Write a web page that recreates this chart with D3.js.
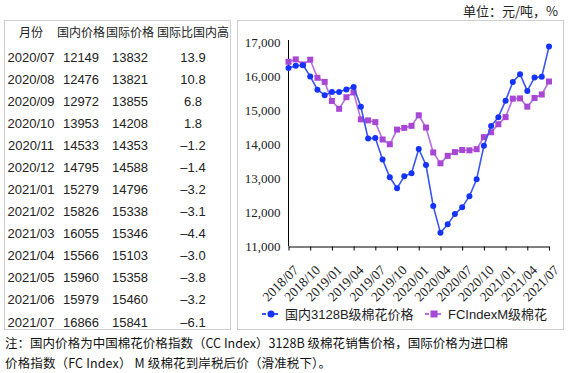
<!DOCTYPE html>
<html>
<head>
<meta charset="utf-8">
<script src="https://cdn.jsdelivr.net/npm/d3@7"></script>
<style>
  body { margin: 0; background: #fff; }
  svg { display: block; }
</style>
</head>
<body>
<div id="chart"></div>
<script>
// monthly series, 2018/07 - 2021/07
const months = ["2018/07","2018/08","2018/09","2018/10","2018/11","2018/12",
  "2019/01","2019/02","2019/03","2019/04","2019/05","2019/06","2019/07","2019/08","2019/09","2019/10","2019/11","2019/12",
  "2020/01","2020/02","2020/03","2020/04","2020/05","2020/06","2020/07","2020/08","2020/09","2020/10","2020/11","2020/12",
  "2021/01","2021/02","2021/03","2021/04","2021/05","2021/06","2021/07"];
const domestic = [16240,16300,16320,15990,15600,15440,15530,15530,15610,15680,15100,14170,14180,13550,13030,
  12710,13060,13150,13860,13390,12190,11400,11650,11950,12149,12476,12972,13953,14533,14795,
  15279,15826,16055,15566,15960,15979,16866];
const intl = [16420,16490,16340,16480,15950,15830,15270,15040,15380,15520,14730,14700,14650,14140,14000,
  14430,14480,14540,14850,14490,13760,13440,13660,13770,13832,13821,13855,14208,14353,14588,
  14796,15338,15346,15103,15358,15460,15841];
const yTicks = [11000,12000,13000,14000,15000,16000,17000];
const seriesNames = ["国内3128B级棉花价格", "FCIndexM级棉花"];

// table on the left
const tableHeader = ["月份","国内价格","国际价格","国际比国内高"];
const tableMonths = ["2020/07","2020/08","2020/09","2020/10","2020/11","2020/12","2021/01","2021/02","2021/03","2021/04","2021/05","2021/06","2021/07"];
const tableDomestic = ["12149","12476","12972","13953","14533","14795","15279","15826","16055","15566","15960","15979","16866"];
const tableIntl = ["13832","13821","13855","14208","14353","14588","14796","15338","15346","15103","15358","15460","15841"];
const tableDiff = ["13.9","10.8","6.8","1.8","\u20131.2","\u20131.4","\u20133.2","\u20133.1","\u20134.4","\u20133.0","\u20133.8","\u20133.2","\u20136.1"];

const unitText = "单位：元/吨，%";
const noteLines = ["注：国内价格为中国棉花价格指数（CC Index）3128B 级棉花销售价格，国际价格为进口棉",
  "价格指数（FC Index） M 级棉花到岸税后价（滑准税下）。"];

const width = 574, height = 373;
const blue = "#1433ff", blueLine = "#3a55f0";
const purple = "#a847d6", purpleLine = "#b56ee0";
const serif = "'Liberation Serif', 'DejaVu Serif', serif";
const sans = "'Liberation Sans', 'Noto Sans CJK SC', sans-serif";
const cjk = "'Noto Sans CJK SC', sans-serif";

const svg = d3.select("#chart").append("svg")
  .attr("width", width)
  .attr("height", height);

// boxes
svg.append("rect").attr("x", 4.5).attr("y", 20.5).attr("width", 226).attr("height", 309)
  .attr("fill", "none").attr("stroke", "#cfcfcf");
svg.append("rect").attr("x", 237.5).attr("y", 20.5).attr("width", 326).attr("height", 309)
  .attr("fill", "none").attr("stroke", "#cfcfcf");

// ---- table ----
const colX = d3.scaleOrdinal().domain([0,1,2,3]).range([31, 81, 130, 193]);
const rowY = d3.scaleLinear().domain([0, 12]).range([57, 322]);

svg.append("g").selectAll("text")
  .data(tableHeader)
  .join("text")
  .attr("x", (d, i) => colX(i))
  .attr("y", 33)
  .attr("dy", "0.35em")
  .attr("text-anchor", "middle")
  .attr("font-family", cjk)
  .attr("font-size", 12)
  .attr("fill", "#222")
  .text(d => d);

const rows = tableMonths.map((m, i) => [m, tableDomestic[i], tableIntl[i], tableDiff[i]]);
svg.append("g").selectAll("g")
  .data(rows)
  .join("g")
  .attr("transform", (d, i) => `translate(0,${rowY(i)})`)
  .selectAll("text")
  .data(d => d)
  .join("text")
  .attr("x", (d, i) => colX(i))
  .attr("dy", "0.35em")
  .attr("text-anchor", "middle")
  .attr("font-family", sans)
  .attr("font-size", 13)
  .attr("fill", "#222")
  .text(d => d);

// ---- line chart ----
const x = d3.scalePoint().domain(months).range([288.5, 549]);
const y = d3.scaleLinear().domain([11000, 17000]).range([246.5, 42]);

// y axis
const yAxis = svg.append("g")
  .attr("transform", "translate(288.5,0)")
  .call(d3.axisLeft(y).tickValues(yTicks).tickFormat(d3.format(",")).tickSize(0).tickPadding(8));
yAxis.select(".domain").attr("stroke", "#000").attr("d", `M0,${y(17000) - 2}V${y(11000)}`);
yAxis.selectAll(".tick text").attr("font-family", serif).attr("font-size", 13).attr("fill", "#222");

// x axis
const xAxis = svg.append("g")
  .attr("transform", `translate(0,${y(11000)})`)
  .call(d3.axisBottom(x).tickValues(months.filter((d, i) => i % 3 === 0)).tickSize(4).tickSizeOuter(0));
xAxis.select(".domain").attr("stroke", "#000");
xAxis.selectAll(".tick line").attr("stroke", "#000");
xAxis.selectAll(".tick text")
  .attr("font-family", serif)
  .attr("font-size", 13.5)
  .attr("fill", "#222")
  .attr("text-anchor", "end")
  .attr("transform", "translate(7,21) rotate(-45)")
  .attr("dy", "0.35em")
  .attr("y", 0);

const line = d3.line().x((d, i) => x(months[i])).y(d => y(d));

svg.append("path").datum(intl)
  .attr("fill", "none").attr("stroke", purpleLine).attr("stroke-width", 1.6).attr("d", line);
svg.append("g").selectAll("rect")
  .data(intl)
  .join("rect")
  .attr("x", (d, i) => x(months[i]) - 3)
  .attr("y", d => y(d) - 3)
  .attr("width", 6).attr("height", 6)
  .attr("fill", purple);

svg.append("path").datum(domestic)
  .attr("fill", "none").attr("stroke", blueLine).attr("stroke-width", 1.6).attr("d", line);
svg.append("g").selectAll("circle")
  .data(domestic)
  .join("circle")
  .attr("cx", (d, i) => x(months[i]))
  .attr("cy", d => y(d))
  .attr("r", 3)
  .attr("fill", blue);

// legend
const legend = svg.append("g").attr("transform", "translate(0,314)");
const legendItems = [
  {name: seriesNames[0], x: 262, color: blue, line: blueLine, shape: "circle"},
  {name: seriesNames[1], x: 425, color: purple, line: purpleLine, shape: "square"}
];
legendItems.forEach(it => {
  const g = legend.append("g").attr("transform", `translate(${it.x},0)`);
  g.append("line").attr("x1", 0).attr("x2", 18).attr("stroke", it.line)
    .attr("stroke-width", 2).attr("stroke-dasharray", "4,2");
  if (it.shape === "circle") {
    g.append("circle").attr("cx", 9).attr("r", 3.5).attr("fill", it.color);
  } else {
    g.append("rect").attr("x", 5.5).attr("y", -3.5).attr("width", 7).attr("height", 7).attr("fill", it.color);
  }
  g.append("text").attr("x", 23).attr("dy", "0.35em")
    .attr("font-family", sans).attr("font-size", 13).attr("fill", "#222")
    .text(it.name);
});

// unit label
svg.append("text")
  .attr("x", 558).attr("y", 16)
  .attr("text-anchor", "end")
  .attr("font-family", cjk).attr("font-size", 13).attr("fill", "#222")
  .text(unitText);

// footnote
svg.append("g").selectAll("text")
  .data(noteLines)
  .join("text")
  .attr("x", 5)
  .attr("y", (d, i) => 348 + i * 20)
  .attr("font-family", cjk)
  .attr("font-size", 12.5)
  .attr("fill", "#111")
  .attr("textLength", (d, i) => i === 0 ? 503 : 326)
  .attr("lengthAdjust", "spacing")
  .text(d => d);
</script>
</body>
</html>
